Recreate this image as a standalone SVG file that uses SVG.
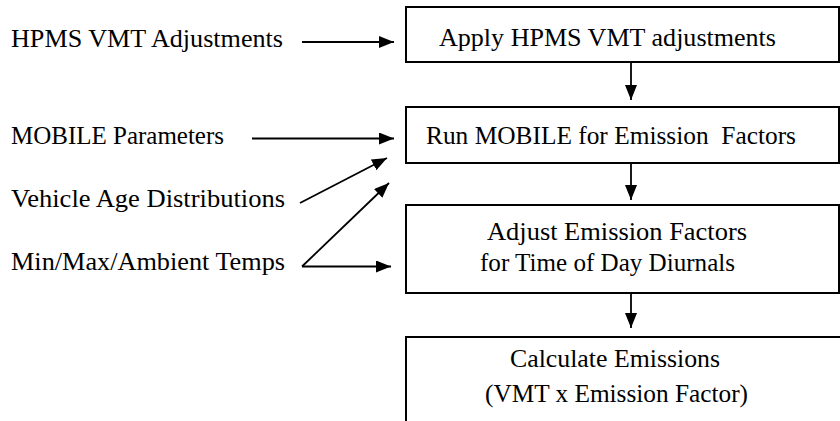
<svg xmlns="http://www.w3.org/2000/svg" width="840" height="421" viewBox="0 0 840 421">
<style>
.t{font-family:"Liberation Serif","Times New Roman",serif;font-size:25px;fill:#000}
.box{fill:#fff;stroke:#000;stroke-width:2}
.c{stroke:#000;stroke-width:1.8;fill:none}
</style>
<defs>
<marker id="ah" markerUnits="userSpaceOnUse" markerWidth="15" markerHeight="12" refX="15" refY="6" orient="auto">
<path d="M0,0 L15,6 L0,12 Z" fill="#000"/>
</marker>
</defs>
<rect width="840" height="421" fill="#fff"/>
<g id="in-hpms"><text class="t" x="11" y="47" textLength="272" lengthAdjust="spacingAndGlyphs">HPMS VMT Adjustments</text></g>
<g id="in-mobile"><text class="t" x="11" y="144" textLength="213" lengthAdjust="spacingAndGlyphs">MOBILE Parameters</text></g>
<g id="in-age"><text class="t" x="11" y="207" textLength="274" lengthAdjust="spacingAndGlyphs">Vehicle Age Distributions</text></g>
<g id="in-temps"><text class="t" x="11" y="270" textLength="274" lengthAdjust="spacingAndGlyphs">Min/Max/Ambient Temps</text></g>
<g id="n1"><rect class="box" x="406" y="7" width="433" height="55"/><text class="t" x="439" y="46" textLength="337" lengthAdjust="spacingAndGlyphs">Apply HPMS VMT adjustments</text></g>
<g id="n2"><rect class="box" x="406" y="107" width="433" height="56"/><text class="t" x="426" y="144" textLength="370" lengthAdjust="spacingAndGlyphs" xml:space="preserve">Run MOBILE for Emission  Factors</text></g>
<g id="n3"><rect class="box" x="406" y="205" width="433" height="88"/><text class="t" x="487" y="240" textLength="260" lengthAdjust="spacingAndGlyphs">Adjust Emission Factors</text><text class="t" x="480" y="271" textLength="255" lengthAdjust="spacingAndGlyphs">for Time of Day Diurnals</text></g>
<g id="n4"><rect class="box" x="406" y="337" width="500" height="200"/><text class="t" x="510" y="367" textLength="210" lengthAdjust="spacingAndGlyphs">Calculate Emissions</text><text class="t" x="485" y="402" textLength="263" lengthAdjust="spacingAndGlyphs">(VMT x Emission Factor)</text></g>
<g id="connectors">
<line class="c" x1="302" y1="42" x2="394" y2="42" marker-end="url(#ah)"/>
<line class="c" x1="252" y1="138.5" x2="394" y2="138.5" marker-end="url(#ah)"/>
<line class="c" x1="300" y1="203" x2="387" y2="158" marker-end="url(#ah)"/>
<line class="c" x1="302" y1="266.5" x2="389" y2="183" marker-end="url(#ah)"/>
<line class="c" x1="302" y1="266.5" x2="391" y2="266.5" marker-end="url(#ah)"/>
<line class="c" x1="631" y1="62" x2="631" y2="100" marker-end="url(#ah)"/>
<line class="c" x1="631" y1="163" x2="631" y2="200" marker-end="url(#ah)"/>
<line class="c" x1="631" y1="293" x2="631" y2="328" marker-end="url(#ah)"/>
</g>
</svg>
